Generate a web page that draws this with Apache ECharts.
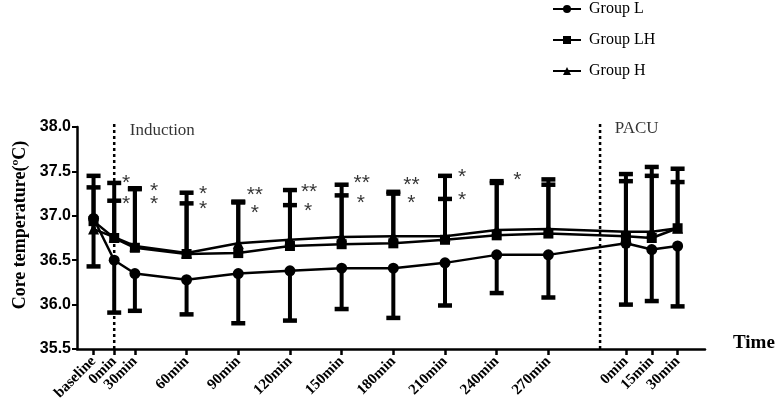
<!DOCTYPE html>
<html>
<head>
<meta charset="utf-8">
<script src="https://cdn.jsdelivr.net/npm/echarts@6/dist/echarts.min.js"></script>
<style>html,body{margin:0;padding:0;background:#fff;}#c{width:777px;height:410px;}</style>
</head>
<body>
<div id="c"></div>
<script>
// Time points (x positions on a stretched time scale) and their tick labels
const xPositions = [0, 0.4, 0.8, 1.8, 2.8, 3.8, 4.8, 5.8, 6.8, 7.8, 8.8, 10.3, 10.8, 11.3];
const xLabels = ['baseline','0min','30min','60min','90min','120min','150min','180min','210min','240min','270min','0min','15min','30min'];

// Group means
const meanL  = [36.97, 36.50, 36.35, 36.28, 36.35, 36.38, 36.41, 36.41, 36.47, 36.56, 36.56, 36.69, 36.62, 36.66];
const meanLH = [36.94, 36.75, 36.64, 36.57, 36.58, 36.66, 36.68, 36.69, 36.73, 36.78, 36.80, 36.77, 36.75, 36.86];
const meanH  = [36.85, 36.76, 36.66, 36.58, 36.69, 36.73, 36.76, 36.77, 36.77, 36.84, 36.85, 36.82, 36.82, 36.86];

// Error bar ends (L drawn downward, LH / H drawn upward)
const lowerL  = [36.43, 35.91, 35.93, 35.89, 35.79, 35.82, 35.95, 35.85, 35.99, 36.13, 36.08, 36.00, 36.04, 35.98];
const upperLH = [37.32, 37.17, 37.30, 37.14, 37.15, 37.12, 37.23, 37.25, 37.19, 37.37, 37.35, 37.39, 37.45, 37.38];
const upperH  = [37.45, 37.37, 37.31, 37.26, 37.16, 37.29, 37.35, 37.27, 37.45, 37.39, 37.41, 37.47, 37.55, 37.53];

// Y ticks
const yMin = 35.5, yMax = 38.0, yStep = 0.5;

// Significance marks [x, y, text]
const sigMarks = [
  [0.63, 37.40, '*'], [0.63, 37.17, '*'],
  [1.17, 37.31, '*'], [1.17, 37.16, '*'],
  [2.12, 37.28, '*'], [2.12, 37.11, '*'],
  [3.12, 37.27, '**'], [3.12, 37.06, '*'],
  [4.17, 37.30, '**'], [4.15, 37.09, '*'],
  [5.19, 37.40, '**'], [5.17, 37.18, '*'],
  [6.15, 37.38, '**'], [6.15, 37.18, '*'],
  [7.13, 37.47, '*'], [7.13, 37.21, '*'],
  [8.20, 37.44, '*']
];
// Phase labels and separators
const phaseLabels = [[0.70, 37.96, 'Induction'], [10.085, 37.98, 'PACU']];
const phaseLines = [0.4, 9.8];
const phaseLineTop = 38.04;
const xRange = [-0.32, 11.83];
const yTitle = 'Core temperature(\u00BAC)';
const xTitle = 'Time';

// tick labels alternate between two axes so neighbouring rotated labels are never culled
const setA = [], setB = [];
xPositions.forEach((x, i) => { (i % 2 === 0 ? setA : setB).push(x); });

function pairs(xs, ys){ return xs.map((x,i)=>[x, ys[i]]); }
function triples(xs, a, b){ return xs.map((x,i)=>[x, a[i], b[i]]); }
function labelFor(v){
  for (let i=0;i<xPositions.length;i++){ if (Math.abs(xPositions[i]-v)<1e-6) return xLabels[i]; }
  return '';
}

function renderErr(params, api){
  const x = api.value(0), m = api.value(1), b = api.value(2);
  const p1 = api.coord([x, m]), p2 = api.coord([x, b]);
  const hw = 7;
  return {type:'group', children:[
    {type:'line', shape:{x1:p1[0], y1:p1[1], x2:p2[0], y2:p2[1]}, style:{stroke:'#000', lineWidth:4}},
    {type:'line', shape:{x1:p2[0]-hw, y1:p2[1], x2:p2[0]+hw, y2:p2[1]}, style:{stroke:'#000', lineWidth:4.5}}
  ]};
}
function renderPhase(params, api){
  const x = api.value(0);
  const p1 = api.coord([x, yMin]), p2 = api.coord([x, phaseLineTop]);
  return {type:'line', shape:{x1:p1[0], y1:p1[1], x2:p2[0], y2:p2[1]},
    style:{stroke:'#000', lineWidth:2.5, lineDash:[3,3]}};
}

const chart = echarts.init(document.getElementById('c'), null, {renderer:'canvas'});
const serif = 'Liberation Serif';
const lineCommon = {
  type:'line', showSymbol:true, z:5,
  lineStyle:{color:'#000', width:2.5},
  itemStyle:{color:'#000'},
  emphasis:{disabled:true}
};
const labelStyle = {
  rotate:45, margin:10, showMinLabel:true, showMaxLabel:true, hideOverlap:false,
  fontFamily:serif, fontWeight:'bold', fontSize:15, color:'#000', formatter:labelFor
};
chart.setOption({
  animation:false,
  backgroundColor:'#fff',
  grid:{left:77, right:72, top:127, bottom:61, containLabel:false, outerBoundsMode:'none'},
  legend:{
    data:['Group L','Group LH','Group H'],
    orient:'vertical', left:547, top:-4,
    itemWidth:28, itemHeight:10, itemGap:15,
    textStyle:{fontFamily:serif, fontSize:16, color:'#000', padding:[0,0,0,3]}
  },
  graphic:[
    {type:'text', x:20, y:225, rotation:Math.PI/2, silent:true,
      style:{text:yTitle, font:'bold 18px "Liberation Serif"', textAlign:'center', textVerticalAlign:'middle', fill:'#000'}},
    {type:'text', x:733, y:343, silent:true,
      style:{text:xTitle, font:'bold 19px "Liberation Serif"', textAlign:'left', textVerticalAlign:'middle', fill:'#000'}}
  ],
  xAxis:[{
    type:'value', min:xRange[0], max:xRange[1],
    splitLine:{show:false},
    axisLine:{onZero:false, lineStyle:{color:'#000', width:2.5}},
    axisTick:{customValues:xPositions, length:6, lineStyle:{color:'#000', width:2.5}},
    axisLabel:Object.assign({customValues:setA}, labelStyle)
  },{
    type:'value', min:xRange[0], max:xRange[1], position:'bottom', offset:0,
    splitLine:{show:false}, axisLine:{show:false, onZero:false}, axisTick:{show:false},
    axisLabel:Object.assign({customValues:setB}, labelStyle)
  }],
  yAxis:{
    type:'value', min:yMin, max:yMax, interval:yStep,
    splitLine:{show:false},
    axisLine:{show:true, onZero:false, lineStyle:{color:'#000', width:2.5}},
    axisTick:{show:true, length:5, lineStyle:{color:'#000', width:2}},
    axisLabel:{margin:6, fontFamily:'Liberation Sans', fontWeight:'bold', fontSize:16, color:'#000',
      formatter:v=>v.toFixed(1)}
  },
  series:[
    {type:'custom', name:'phaseLines', renderItem:renderPhase, data:phaseLines.map(x=>[x]), z:1, silent:true, clip:false},
    {type:'custom', name:'errL', renderItem:renderErr, data:triples(xPositions, meanL, lowerL), z:2, silent:true},
    {type:'custom', name:'errLH', renderItem:renderErr, data:triples(xPositions, meanLH, upperLH), z:2, silent:true},
    {type:'custom', name:'errH', renderItem:renderErr, data:triples(xPositions, meanH, upperH), z:2, silent:true},
    Object.assign({}, lineCommon, {name:'Group H', symbol:'triangle', symbolSize:11, data:pairs(xPositions, meanH)}),
    Object.assign({}, lineCommon, {name:'Group LH', symbol:'rect', symbolSize:10, data:pairs(xPositions, meanLH)}),
    Object.assign({}, lineCommon, {name:'Group L', symbol:'circle', symbolSize:11, data:pairs(xPositions, meanL)}),
    {type:'scatter', name:'sig', symbolSize:0, silent:true, z:6,
      data:sigMarks,
      label:{show:true, position:'inside', formatter:p=>p.data[2],
        fontFamily:'Liberation Sans', fontSize:21, color:'#000', offset:[0,3]}
    },
    {type:'scatter', name:'phase', symbolSize:0, silent:true, z:6,
      data:phaseLabels,
      label:{show:true, position:'right', distance:0, formatter:p=>p.data[2],
        fontFamily:serif, fontSize:17, color:'#000'}
    }
  ]
});
</script>
</body>
</html>
